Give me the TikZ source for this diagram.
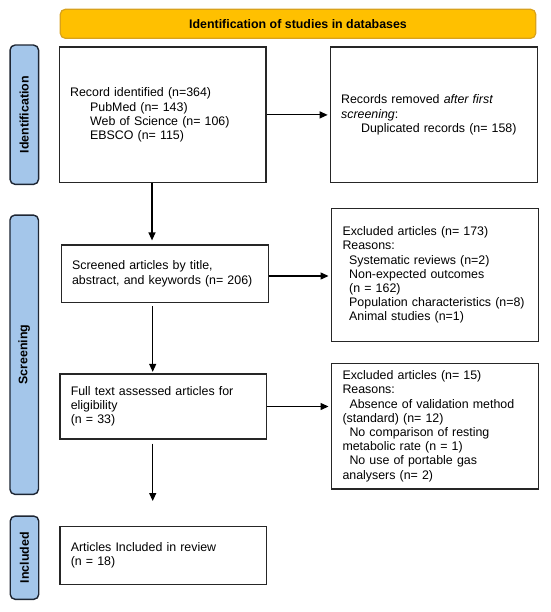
\documentclass[tikz,border=0pt]{standalone}
\usepackage{fontspec}
\setmainfont{Liberation Sans}
\usetikzlibrary{arrows.meta}
\definecolor{bannerfill}{HTML}{FFC000}
\definecolor{bannerline}{HTML}{D9A21B}
\definecolor{barfill}{HTML}{A4C6EA}
\definecolor{barline}{HTML}{1E2633}
\definecolor{boxline}{HTML}{262626}
\begin{document}
\begin{tikzpicture}[x=1pt,y=-1pt,
  txt/.style={font=\fontsize{12.4}{14.2}\selectfont},
  box/.style={txt, draw=boxline, line width=1.3pt, fill=white, inner xsep=10.8pt, inner ysep=0pt, align=left, anchor=center},
  bar/.style={draw=barline, fill=barfill, line width=1.4pt, rounded corners=5pt, rotate=90, font=\bfseries\fontsize{12.4}{14.2}\selectfont, inner sep=0pt, minimum height=28.5pt},
  banner/.style={draw=bannerline, fill=bannerfill, line width=1.2pt, rounded corners=5pt, font=\bfseries\fontsize{12.4}{14.2}\selectfont, minimum width=475.4pt, minimum height=29pt, inner sep=0pt},
  arr/.style={-{Triangle[length=8pt,width=7pt]}, line width=1.2pt, black}
]
\useasboundingbox (0,0) rectangle (550,612);

% banner and side bars
\node[banner] (ban) at (298,23.8) {Identification of studies in databases};
\node[bar, minimum width=139.3pt] (barI) at (24.3,114.7) {Identification};
\node[bar, minimum width=279.3pt] (barS) at (24.2,354.7) {Screening};
\node[bar, minimum width=83.3pt] (barN) at (24.5,557.7) {Included};

% boxes
\node[box, minimum width=206.7pt, minimum height=135.7pt, text width=185.1pt] (b1) at (162.7,114.9)
 {Record identified (n=364)\\
  \hspace*{20pt}PubMed (n= 143)\\
  \hspace*{20pt}Web of Science (n= 106)\\
  \hspace*{20pt}EBSCO (n= 115)};
\node[box, minimum width=207pt, minimum height=135.7pt, text width=185.4pt] (b2) at (433.8,114.9)
 {Records removed \textit{after first}\\
  \textit{screening}:\\
  \hspace*{20pt}Duplicated records (n= 158)};
\node[box, minimum width=207.4pt, minimum height=57.3pt, text width=185.8pt] (b3) at (165,273.7)
 {Screened articles by title,\\
  abstract, and keywords (n= 206)};
\node[box, minimum width=206.6pt, minimum height=133.4pt, text width=185pt] (b4) at (435,275)
 {Excluded articles (n= 173)\\
  Reasons:\\
  \hspace*{6.7pt}Systematic reviews (n=2)\\
  \hspace*{6.7pt}Non-expected outcomes\\
  \hspace*{6.7pt}(n = 162)\\
  \hspace*{6.7pt}Population characteristics (n=8)\\
  \hspace*{6.7pt}Animal studies (n=1)};
\node[box, minimum width=206.7pt, minimum height=65pt, text width=185.1pt] (b5) at (163.3,406.5)
 {Full text assessed articles for\\
  eligibility\\
  (n = 33)};
\node[box, minimum width=206.6pt, minimum height=125.7pt, text width=185pt] (b6) at (435,426.2)
 {Excluded articles (n= 15)\\
  Reasons:\\
  \hspace*{7pt}Absence of validation method\\
  (standard) (n= 12)\\
  \hspace*{7pt}No comparison of resting\\
  metabolic rate (n = 1)\\
  \hspace*{7pt}No use of portable gas\\
  analysers (n= 2)};
\node[box, minimum width=206.7pt, minimum height=57.6pt, text width=185.1pt] (b7) at (163.3,555.5)
 {Articles Included in review\\
  (n = 18)};

% connectors
\coordinate (colA) at (152,0);
\coordinate (colB) at (152.7,0);
\coordinate (endD) at (152.7,501);
\draw[arr, shorten >=2pt] (b1.east) -- (b2.west);
\draw[arr, shorten >=2.5pt] ([yshift=-2.3pt]b3.east) -- ([yshift=-2.3pt]b3.east -| b4.west);
\draw[arr, shorten >=2.5pt] (b5.east) -- (b5.east -| b6.west);
\draw[arr, shorten >=4pt] (b1.south -| colA) -- (b3.north -| colA);
\draw[arr, shorten <=3pt, shorten >=1.5pt] (b3.south -| colB) -- (b5.north -| colB);
\draw[arr, shorten <=4pt] (b5.south -| colB) -- (endD);
\end{tikzpicture}
\end{document}
